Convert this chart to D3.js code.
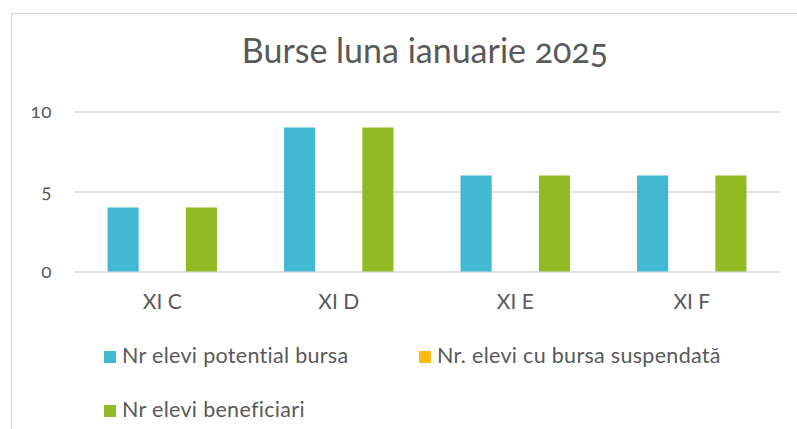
<!DOCTYPE html>
<html>
<head>
<meta charset="utf-8">
<script src="https://cdn.jsdelivr.net/npm/d3@7"></script>
<style>
  body { margin: 0; background: #fff; }
  svg { display: block; font-family: Lato, "Open Sans", sans-serif; font-feature-settings: "onum"; }
</style>
</head>
<body>
<div id="chart"></div>
<script>
var categories = ["XI C", "XI D", "XI E", "XI F"];
var seriesNames = ["Nr elevi potential bursa", "Nr. elevi cu bursa suspendată", "Nr elevi beneficiari"];
var potential = [4, 9, 6, 6];
var suspended = [0, 0, 0, 0];
var beneficiari = [4, 9, 6, 6];
var yTicks = [0, 5, 10];
var colors = ["#41B9D3", "#FDB813", "#92BA25"];

var values = [potential, suspended, beneficiari];

var width = 797, height = 429;

var svg = d3.select("#chart").append("svg")
  .attr("width", width)
  .attr("height", height);

svg.append("rect")
  .attr("width", width).attr("height", height)
  .attr("fill", "#fff");

// chart frame
svg.append("rect")
  .attr("x", 11.5).attr("y", 13.5)
  .attr("width", 800).attr("height", 430)
  .attr("fill", "none")
  .attr("stroke", "#D9D9D9")
  .attr("stroke-width", 1.3);

svg.append("text")
  .attr("x", 425)
  .attr("y", 63)
  .attr("text-anchor", "middle")
  .attr("font-size", 34)
  .attr("fill", "#595959")
  .text("Burse luna ianuarie 2025");

var x0 = d3.scaleBand()
  .domain(categories)
  .range([74, 780])
  .paddingInner(0.38)
  .paddingOuter(0.19);

var x1 = d3.scaleBand()
  .domain(seriesNames)
  .range([0, x0.bandwidth()])
  .paddingInner(0.205);

var y = d3.scaleLinear()
  .domain([0, 10])
  .range([271.5, 111.5]);

// gridlines
var yAxis = d3.axisLeft(y)
  .tickValues(yTicks)
  .tickSize(-(780 - 74))
  .tickPadding(22)
  .tickFormat(d3.format("d"));

var gy = svg.append("g")
  .attr("transform", "translate(74,0)")
  .call(yAxis);

gy.select(".domain").remove();
gy.selectAll(".tick line")
  .attr("stroke", "#D9D9D9")
  .attr("stroke-width", 1.5);
gy.selectAll(".tick text")
  .attr("fill", "#595959")
  .attr("font-size", 19)
  .attr("font-family", "Lato, sans-serif")
  .attr("letter-spacing", 0.5)
  .attr("dy", "0.3em");

// bars
var groups = svg.selectAll(".group")
  .data(categories)
  .enter().append("g")
  .attr("class", "group")
  .attr("transform", d => "translate(" + x0(d) + ",0)");

groups.selectAll("rect")
  .data((d, i) => seriesNames.map((s, j) => ({ series: s, value: values[j][i], color: colors[j] })))
  .enter().append("rect")
  .attr("x", d => x1(d.series))
  .attr("width", x1.bandwidth())
  .attr("y", d => y(d.value))
  .attr("height", d => y(0) - y(d.value))
  .attr("fill", d => d.color);

// category axis
var xAxis = d3.axisBottom(x0).tickSize(0).tickPadding(23);
var gx = svg.append("g")
  .attr("transform", "translate(0,271.5)")
  .call(xAxis);
gx.select(".domain").remove();
gx.selectAll(".tick text")
  .attr("fill", "#595959")
  .attr("font-size", 21)
  .attr("font-family", "Lato, sans-serif");

// legend
var legendPos = [[104, 363], [419, 363], [104, 417]];
var legend = svg.selectAll(".legend")
  .data(seriesNames)
  .enter().append("g")
  .attr("class", "legend")
  .attr("transform", (d, i) => "translate(" + legendPos[i][0] + "," + legendPos[i][1] + ")");

legend.append("rect")
  .attr("x", 0).attr("y", -12)
  .attr("width", 12).attr("height", 12)
  .attr("fill", (d, i) => colors[i]);

legend.append("text")
  .attr("x", 18)
  .attr("y", 0)
  .attr("font-size", 21.5)
  .attr("letter-spacing", 0.3)
  .attr("fill", "#595959")
  .text(d => d);
</script>
</body>
</html>
